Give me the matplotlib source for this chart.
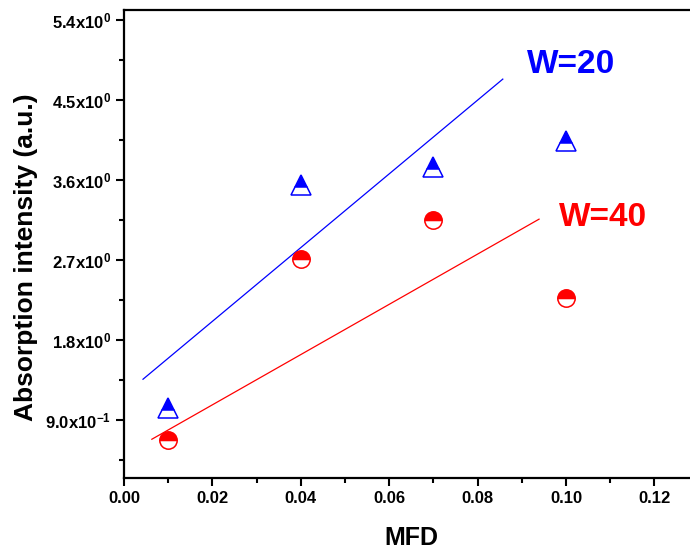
import matplotlib
matplotlib.use("Agg")
import matplotlib.pyplot as plt
from matplotlib.ticker import MultipleLocator, FuncFormatter

plt.rcParams["font.family"] = ["Liberation Sans", "DejaVu Sans"]
plt.rcParams["font.weight"] = "bold"
plt.rcParams["mathtext.fontset"] = "custom"
plt.rcParams["mathtext.rm"] = "Liberation Sans:bold"
plt.rcParams["mathtext.default"] = "rm"

# datos medidos
mfd = [0.01, 0.04, 0.07, 0.10]
abs_w20 = [1.035, 3.54, 3.745, 4.04]
abs_w40 = [0.675, 2.71, 3.15, 2.27]

# rectas de tendencia (extremos)
recta_w20_x = [0.0043, 0.0857]
recta_w20_y = [1.358, 4.733]
recta_w40_x = [0.0063, 0.0939]
recta_w40_y = [0.683, 3.158]

fig = plt.figure(figsize=(6.9, 5.5), dpi=100)
ax = fig.add_axes([0.1797, 0.1304, 0.8328, 0.8514])

ax.plot(recta_w20_x, recta_w20_y, color="blue", lw=0.9)
ax.plot(recta_w40_x, recta_w40_y, color="red", lw=0.9)

ax.plot(mfd, abs_w20, ls="none", marker="^", ms=14.5, fillstyle="top",
        color="blue", markerfacecoloralt="white", mec="blue", mew=1.1)
ax.plot(mfd, abs_w40, ls="none", marker="o", ms=12.5, fillstyle="top",
        color="red", markerfacecoloralt="white", mec="red", mew=1.1)

ax.text(0.1011, 4.90, "W=20", color="blue", fontsize=24, fontweight="bold",
        ha="center", va="center")
ax.text(0.1084, 3.18, "W=40", color="red", fontsize=24, fontweight="bold",
        ha="center", va="center")

ax.set_xlim(0, 0.13)
ax.set_ylim(0.244, 5.51)

ax.xaxis.set_major_locator(MultipleLocator(0.02))
ax.xaxis.set_minor_locator(MultipleLocator(0.01))
ax.yaxis.set_major_locator(MultipleLocator(0.9))
ax.yaxis.set_minor_locator(MultipleLocator(0.45))


def formato_y(v, pos):
    if v < 1:
        return "%.1fx10$^{-1}$" % (v * 10)
    return "%.1fx10$^{0}$" % v


ax.yaxis.set_major_formatter(FuncFormatter(formato_y))
ax.xaxis.set_major_formatter(FuncFormatter(lambda v, p: "%.2f" % v))

ax.tick_params(which="major", direction="out", length=6, width=1.5,
               labelsize=12)
ax.tick_params(which="minor", direction="out", length=3.5, width=1.5)
ax.tick_params(top=False, right=False)
for lado in ax.spines.values():
    lado.set_linewidth(1.6)

ax.set_xlabel("MFD", fontsize=18, fontweight="bold", labelpad=14)
ax.set_ylabel("Absorption intensity (a.u.)", fontsize=19, fontweight="bold")
ax.yaxis.set_label_coords(-0.149, 0.4726)

fig.savefig("out.png", dpi=100)
